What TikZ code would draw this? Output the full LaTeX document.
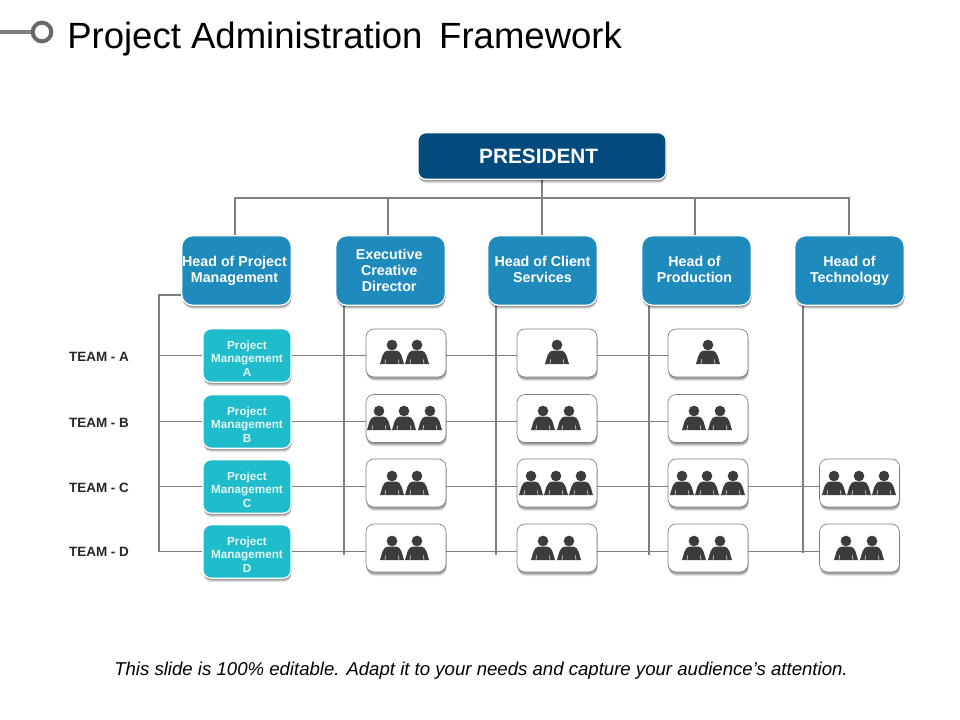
\documentclass[tikz,border=0pt]{standalone}
\usepackage{fontspec}
\setmainfont{Liberation Sans}
\usetikzlibrary{shadows,backgrounds,calc}
\definecolor{presblue}{HTML}{034A7D}
\definecolor{headblue}{HTML}{1F8BBD}
\definecolor{pmteal}{HTML}{1FBCCB}
\definecolor{linegray}{HTML}{7F7F7F}
\definecolor{ringgray}{HTML}{696969}
\definecolor{peoplegray}{HTML}{3C3C3C}
\tikzset{
  softshadow/.style={
    general shadow={fill=black,opacity=.10,shadow xshift=.5pt,shadow yshift=-3pt},
    general shadow={fill=black,opacity=.14,shadow xshift=.4pt,shadow yshift=-2.2pt},
    general shadow={fill=black,opacity=.20,shadow xshift=.3pt,shadow yshift=-1.4pt}},
  presbox/.style={draw=white,line width=.9pt,fill=presblue,rounded corners=6pt,minimum width=186pt,minimum height=35pt,inner sep=0pt,text=white,font=\bfseries\fontsize{15.6}{18}\selectfont,softshadow},
  headbox/.style={draw=white,line width=.9pt,fill=headblue,rounded corners=8pt,minimum width=82pt,minimum height=52pt,inner sep=0pt,align=center,text=white,font=\bfseries\fontsize{10.7}{12.2}\selectfont,softshadow},
  pmbox/.style={draw=white,line width=.9pt,fill=pmteal,rounded corners=6pt,minimum width=66pt,minimum height=40pt,inner sep=0pt,align=center,text=white!88!pmteal,font=\bfseries\fontsize{8.8}{10.4}\selectfont,softshadow},
  peoplebox/.style={draw=linegray,line width=.5pt,fill=white,rounded corners=6pt,minimum width=60pt,minimum height=36pt,inner sep=0pt,softshadow},
  teamlabel/.style={inner sep=0pt,font=\bfseries\fontsize{10.1}{12}\selectfont,text=black!85},
  busline/.style={draw=linegray,line width=1.5pt},
  rowline/.style={draw=linegray,line width=.9pt},
  pics/person/.style={code={
    \fill[peoplegray] (0,-19) circle[radius=4pt];
    \fill[peoplegray] (-12,0) -- (-9.5,-8.5) .. controls (-8.5,-11.5) and (-6.5,-13.5) .. (-4,-13.5) -- (4,-13.5) .. controls (6.5,-13.5) and (8.5,-11.5) .. (9.5,-8.5) -- (12,0) -- cycle;
    \draw[white,line width=.4pt] (-7,0) -- (-6.5,-4.5) (7,0) -- (6.5,-4.5);
  }}
}
\newcommand{\pmlift}{\rule{0pt}{11.2pt}}
\begin{document}
\begin{tikzpicture}[x=.75pt,y=-.75pt]
\useasboundingbox (0,0) rectangle (960,720);
\begin{scope}[on background layer]
\fill[white] (0,0) rectangle (960,720);
\end{scope}
% title
\coordinate (iconstart) at (0,32);
\node[draw=ringgray,line width=3pt,fill=white,circle,minimum size=14pt,inner sep=0pt] (ring) at (42,32) {};
\draw[draw=linegray,line width=3.6pt] (iconstart) -- (ring.west);
\node[anchor=base west,inner sep=0pt,font=\fontsize{27.4}{32}\selectfont] (title) at (67,48.5) {Project Administration\hspace{.18em} Framework};
% top
\node[presbox] (pres) at (542,156) {\hspace*{-5pt}PRESIDENT};
\node[headbox] (h1) at (236.5,270.5) {\hspace*{-3pt}Head of Project\\\hspace*{-3pt}Management};
\node[headbox] (h2) at (390.5,270.5) {\hspace*{-2pt}Executive\\\hspace*{-2pt}Creative\\\hspace*{-2pt}Director};
\node[headbox] (h3) at (542.5,270.5) {Head of Client\\Services\vphantom{gy}};
\node[headbox] (h4) at (696.5,270.5) {\hspace*{-3pt}Head of\\\hspace*{-3pt}Production\vphantom{gy}};
\node[headbox] (h5) at (849.5,270.5) {Head of\\Technology};
% teams
\node[teamlabel] (ta) at (99,356.5) {TEAM - A};
\node[teamlabel] (tb) at (99,422.5) {TEAM - B};
\node[teamlabel] (tc) at (99,487.5) {TEAM - C};
\node[teamlabel] (td) at (99,551.5) {TEAM - D};
\node[pmbox] (pm1) at (247,355.5) {\pmlift Project\\Management\\A};
\node[pmbox] (pm2) at (247,421.5) {\pmlift Project\\Management\\B};
\node[pmbox] (pm3) at (247,486.5) {\pmlift Project\\Management\\C};
\node[pmbox] (pm4) at (247,551.5) {\pmlift Project\\Management\\D};
% people boxes
\node[peoplebox] (b12) at (406,353) {};
\node[peoplebox] (b13) at (557,353) {};
\node[peoplebox] (b14) at (708,353) {};
\node[peoplebox] (b22) at (406,418.5) {};
\node[peoplebox] (b23) at (557,418.5) {};
\node[peoplebox] (b24) at (708,418.5) {};
\node[peoplebox] (b32) at (406,483) {};
\node[peoplebox] (b33) at (557,483) {};
\node[peoplebox] (b34) at (708,483) {};
\node[peoplebox] (b35) at (859.5,483) {};
\node[peoplebox] (b42) at (406,548) {};
\node[peoplebox] (b43) at (557,548) {};
\node[peoplebox] (b44) at (708,548) {};
\node[peoplebox] (b45) at (859.5,548) {};
% people
\foreach \cx/\cy in {392/364,417/364,557/364,708/364,
  379/430,404/430,430/430,543/430,569/430,694/430,720/430,
  392/495,417/495,531/495,556/495,581/495,682/495,707/495,733/495,834/495,859/495,884/495,
  392/560,417/560,543/560,569/560,694/560,720/560,846/560,872/560}
  \pic at (\cx,\cy) {person};
% connectors
\coordinate (d1) at (235,198);
\coordinate (d2) at (388,198);
\coordinate (d3) at (542,198);
\coordinate (d4) at (695,198);
\coordinate (d5) at (849,198);
\coordinate (lb) at (159,295);
\coordinate (lbend) at (159,552);
\coordinate (v2) at (344,555);
\coordinate (v3) at (496,555);
\coordinate (v4) at (649,555);
\coordinate (v5) at (803,553);
\begin{scope}[on background layer]
\draw[busline] (pres.south -| d3) -- (d3);
\draw[busline] (d1 |- h1.north) -- (d1) -- (d5) -- (d5 |- h5.north);
\draw[busline] (d2) -- (d2 |- h2.north);
\draw[busline] (d3) -- (d3 |- h3.north);
\draw[busline] (d4) -- (d4 |- h4.north);
\draw[busline] (h1.west |- lb) -- (lb) -- (lbend);
\draw[busline] (v2 |- h2.south) -- (v2);
\draw[busline] (v3 |- h3.south) -- (v3);
\draw[busline] (v4 |- h4.south) -- (v4);
\draw[busline] (v5 |- h5.south) -- (v5);
\draw[rowline] (lb |- pm1.west) -- (pm1.west);
\draw[rowline] (lb |- pm2.west) -- (pm2.west);
\draw[rowline] (lb |- pm3.west) -- (pm3.west);
\draw[rowline] (lb |- pm4.west) -- (pm4.west);
\draw[rowline] (pm1.east) -- (pm1.east -| b14.west);
\draw[rowline] (pm2.east) -- (pm2.east -| b24.west);
\draw[rowline] (pm3.east) -- (pm3.east -| b35.west);
\draw[rowline] (pm4.east) -- (pm4.east -| b45.west);
\end{scope}
\node[inner sep=0pt,font=\itshape\fontsize{13.95}{16}\selectfont] (foot) at (481,671) {This slide is 100\% editable. Adapt it to your needs and capture your audience's attention.};
\end{tikzpicture}
\end{document}
